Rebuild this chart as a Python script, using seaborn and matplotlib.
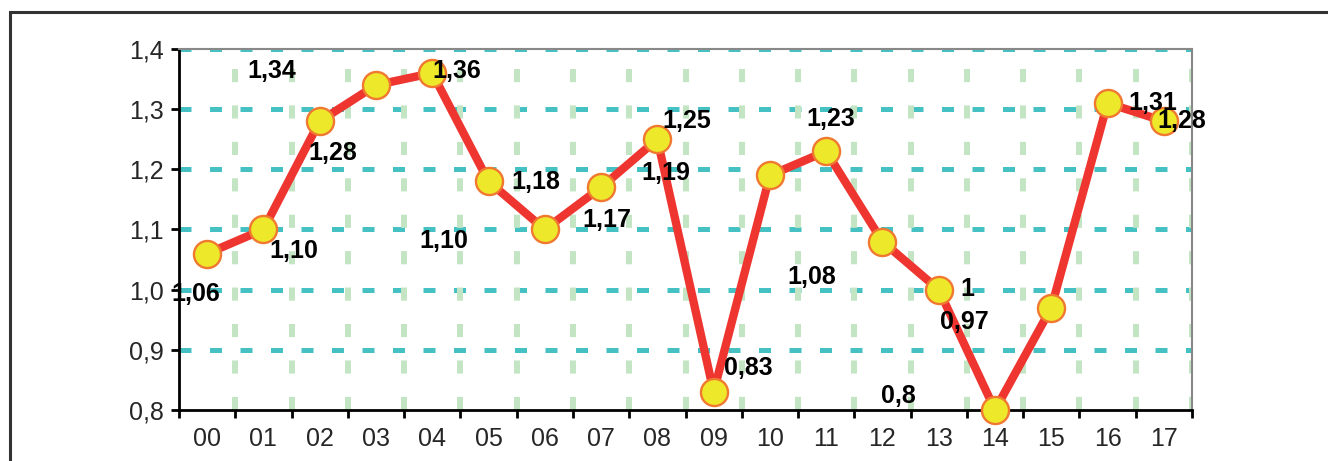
import numpy as np
import pandas as pd
import seaborn as sns
import matplotlib.pyplot as plt
from matplotlib.patches import Rectangle
from matplotlib.ticker import FixedLocator, FuncFormatter

years = ['00', '01', '02', '03', '04', '05', '06', '07', '08', '09',
         '10', '11', '12', '13', '14', '15', '16', '17']
values = [1.06, 1.10, 1.28, 1.34, 1.36, 1.18, 1.10, 1.17, 1.25, 0.83,
          1.19, 1.23, 1.08, 1.00, 0.80, 0.97, 1.31, 1.28]
label_text = ['1,06', '1,10', '1,28', '1,34', '1,36', '1,18', '1,10', '1,17', '1,25',
              '0,83', '1,19', '1,23', '1,08', '1', '0,8', '0,97', '1,31', '1,28']
# label offsets from each point, in pixels (as misplaced in the original)
label_dx = [-11, 30, 13, -104, 25, 47, -101, 6, 29, 35, -104, 5, -71, 29, -97, -87, 45, 18]
label_dy = [-40, -22, -32, 14, 2, -1, -12, -33, 18, 24, 2, 32, -35, 1, 14, -14, 0, 0]

df = pd.DataFrame({'pos': np.arange(len(years)), 'year': years, 'value': values})

sns.set_style('white')
plt.rcParams['font.family'] = ['Liberation Sans Narrow', 'Liberation Sans', 'DejaVu Sans']

fig = plt.figure(figsize=(13.28, 4.61), dpi=100)
ax = fig.add_axes([179 / 1328, 1 - 410 / 461, (1192 - 179) / 1328, (410 - 49) / 461])

# outer frame (only left and top edges visible)
fig.patches.append(Rectangle((10 / 1328, -0.2), 2, 1.2 - 11.5 / 461,
                             transform=fig.transFigure, fill=False,
                             edgecolor='#333333', linewidth=2.2, zorder=0))

ax.set_xlim(-0.5, 17.5)
ax.set_ylim(0.8, 1.4)

# grid
for y in [0.9, 1.0, 1.1, 1.2, 1.3, 1.4]:
    ax.axhline(y, color='#46C1C3', linewidth=3.6, linestyle=(0, (2.4, 3.7)), zorder=1)
for k in range(1, 19):
    ax.axvline(k - 0.5, color='#C4E5C4', linewidth=4.3, linestyle=(0, (2.2, 3.9)), zorder=1)

sns.lineplot(data=df, x='pos', y='value', ax=ax, color='#EE3530', linewidth=6,
             marker='o', markersize=19.5, markerfacecolor='#EEE82A',
             markeredgecolor='#F07830', markeredgewidth=1.7, zorder=3, clip_on=False)

for i, t in enumerate(label_text):
    ax.annotate(t, (i, values[i]), xytext=(label_dx[i], label_dy[i]),
                textcoords='offset pixels', ha='center', va='center',
                fontsize=18, fontweight='bold', color='black', zorder=4,
                annotation_clip=False)

ax.set_xlabel('')
ax.set_ylabel('')
ax.set_xticks(range(len(years)))
ax.set_xticklabels(years)
ax.xaxis.set_minor_locator(FixedLocator(np.arange(-0.5, 18, 1)))
ax.set_yticks([0.8, 0.9, 1.0, 1.1, 1.2, 1.3, 1.4])
ax.yaxis.set_major_formatter(FuncFormatter(lambda v, p: f'{v:.1f}'.replace('.', ',')))

ax.tick_params(axis='x', which='major', length=0, pad=12, labelsize=18)
ax.tick_params(axis='x', which='minor', length=6, width=2, color='black',
               direction='out', bottom=True)
ax.tick_params(axis='y', which='major', length=6, width=2, color='black',
               direction='out', left=True, pad=5, labelsize=18)

for side in ['left', 'bottom']:
    ax.spines[side].set_color('black')
    ax.spines[side].set_linewidth(2)
for side in ['top', 'right']:
    ax.spines[side].set_color('#888888')
    ax.spines[side].set_linewidth(1.5)
    ax.spines[side].set_visible(True)
ax.set_facecolor('white')

fig.savefig('out.png', dpi=100)
